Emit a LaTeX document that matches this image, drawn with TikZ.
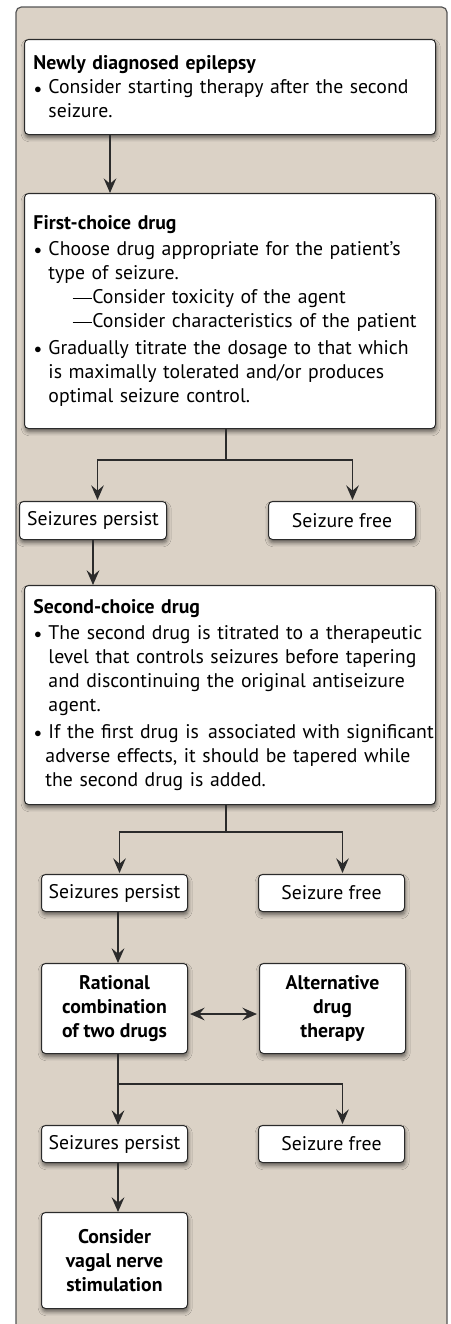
\documentclass[tikz,border=0pt]{standalone}
\usepackage{fontspec}
\setmainfont{PT Sans}
\usetikzlibrary{arrows.meta,shadows.blur,calc}
\definecolor{panel}{HTML}{DBD2C6}
\definecolor{paneledge}{HTML}{555555}
\definecolor{edge}{HTML}{2B2B2B}
\newcommand\bul{\makebox[11.25pt][l]{\hspace{0.75pt}\raisebox{0.6pt}{\scalebox{0.75}{$\bullet$}}}}
\newcommand\bl[1]{\bul\mbox{#1}}
\newcommand\il[1]{\hspace*{11.25pt}\mbox{#1}}
\newcommand\dl[1]{\hspace*{29.25pt}\rule[3.5pt]{14.5pt}{0.85pt}\hspace{0.4pt}\mbox{#1}}
\tikzset{
  box/.style={draw=edge, fill=white, rounded corners=3pt, line width=0.75pt,
    blur shadow={shadow xshift=0.5pt, shadow yshift=-2.5pt, shadow blur radius=3pt, shadow opacity=55},
    font=\fontsize{14.8}{18}\selectfont},
  bigbox/.style={box, anchor=north west, minimum width=308.25pt, text width=294.75pt,
    inner xsep=6.75pt, inner ysep=0pt, align=left},
  smallbox/.style={box, anchor=north west, inner sep=0pt, align=center},
  boldbox/.style={smallbox, font=\fontsize{14.8}{18}\selectfont\bfseries},
  conn/.style={draw=edge, line width=1.1pt},
  tip/.tip={Stealth[length=11pt, width=9.5pt, inset=4pt]},
  arr/.style={conn, -tip},
  darr/.style={conn, tip-tip},
}
\begin{document}
\begin{tikzpicture}[x=0.75pt, y=-0.75pt]
\useasboundingbox (0,0) rectangle (450,1324);
\path[draw=paneledge, fill=panel, line width=0.9pt, rounded corners=4pt] (16,7) rectangle (447,1345);

\node[bigbox, minimum height=71.25pt] (b1) at (24,39) {%
\textbf{Newly diagnosed epilepsy}\\
\bl{Consider starting therapy after the second}\\
\il{seizure.}};

\node[bigbox, minimum height=176.25pt] (b2) at (24,193) {%
\textbf{First-choice drug}\\[1.5pt]
\bl{Choose drug appropriate for the patient's}\\
\il{type of seizure.}\\
\dl{Consider toxicity of the agent}\\
\dl{Consider characteristics of the patient}\\[2pt]
\bl{Gradually titrate the dosage to that which}\\
\il{is maximally tolerated and/or produces}\\
\il{optimal seizure control.}};

\node[smallbox, minimum width=110.25pt, minimum height=28.5pt] (sp1) at (19,501) {Seizures persist};
\node[smallbox, minimum width=110.25pt, minimum height=28.5pt] (sf1) at (268,501) {Seizure free};

\node[bigbox, minimum height=164.25pt] (b3) at (24,585) {%
\textbf{Second-choice drug}\\[1.5pt]
\bl{The second drug is titrated to a therapeutic}\\
\il{level that controls seizures before tapering}\\
\il{and discontinuing the original antiseizure}\\
\il{agent.}\\[2pt]
\bl{If the first drug is\hspace{2pt} associated with significant}\\
\hspace*{9pt}\mbox{adverse effects, it should be tapered while}\\
\hspace*{9pt}\mbox{the second drug is added.}};

\node[smallbox, minimum width=109.5pt, minimum height=27.75pt] (sp2) at (41,874) {Seizures persist};
\node[smallbox, minimum width=109.5pt, minimum height=27.75pt] (sf2) at (258,874) {Seizure free};

\node[boldbox, minimum width=109.5pt, minimum height=67.5pt] (rat) at (41,963) {Rational\\combination\\of two drugs};
\node[boldbox, minimum width=109.5pt, minimum height=67.5pt] (alt) at (259,963) {Alternative\\drug\\therapy};

\node[smallbox, minimum width=109.5pt, minimum height=27.75pt] (sp3) at (41,1125) {Seizures persist};
\node[smallbox, minimum width=109.5pt, minimum height=27.75pt] (sf3) at (258,1125) {Seizure free};

\node[boldbox, minimum width=109.5pt, minimum height=72pt] (vns) at (41,1212) {Consider\\vagal nerve\\stimulation};

% connectors
\coordinate (c110) at (110,0);
\coordinate (j1) at (226,460);
\coordinate (j2) at (226,832);
\coordinate (c118) at (118,0);
\coordinate (c93) at (93,0);
\coordinate (j3) at (118,1084);
\coordinate (c1014) at (0,1014);

\draw[arr] (b1.south -| c110) -- (b2.north -| c110);
\draw[conn] (b2.south -| j1) -- (j1);
\draw[arr] (j1) -| ($(sp1.north)+(4.5,-1)$);
\draw[arr] (j1) -| ($(sf1.north)+(10.5,-1)$);
\draw[arr, line width=2pt] (sp1.south -| c93) -- (b3.north -| c93);
\draw[conn] (b3.south -| j2) -- (j2);
\draw[arr] (j2) -| ($(sp2.north)+(5,-1)$);
\draw[arr] (j2) -| ($(sf2.north)+(11,-1)$);
\draw[arr, line width=1.6pt] (sp2.south -| c118) -- (rat.north -| c118);
\draw[darr] ($(rat.east |- c1014)+(2,0)$) -- ($(alt.west |- c1014)+(-2,0)$);
\draw[conn] (rat.south -| j3) -- (j3);
\draw[arr] (j3) -- (sp3.north -| j3);
\draw[arr] (j3) -| ($(sf3.north)+(11,-1)$);
\draw[arr, line width=1.6pt] (sp3.south -| c118) -- (vns.north -| c118);
\end{tikzpicture}
\end{document}
